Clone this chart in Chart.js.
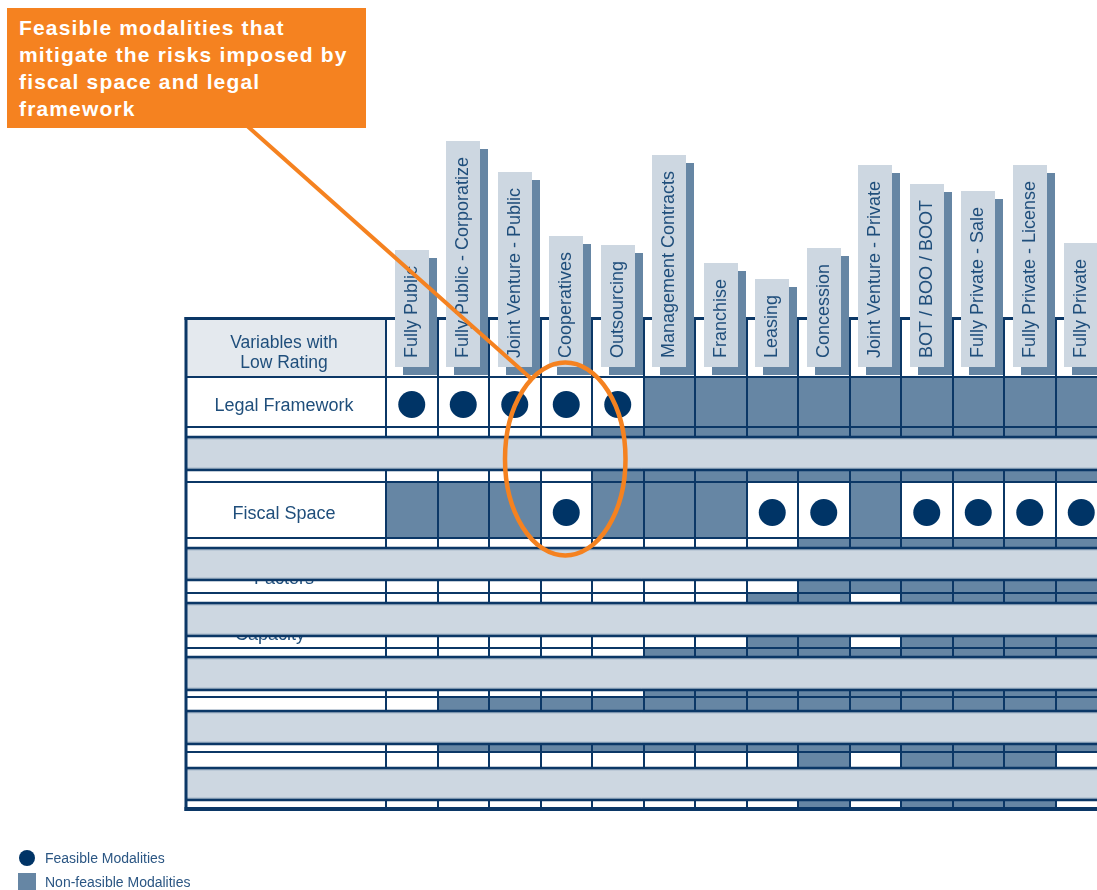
<!DOCTYPE html>
<html>
<head>
<meta charset="utf-8">
<script src="https://cdn.jsdelivr.net/npm/chart.js@4.4.1/dist/chart.umd.min.js"></script>
<style>
  html, body { margin: 0; padding: 0; background: #ffffff; overflow: hidden; }
  #wrap { position: relative; width: 1097px; height: 890px; }
  #chart { position: absolute; left: 0; top: 0; }
  #callout {
    position: absolute; left: 7px; top: 8px; width: 359px; height: 120px;
    background: #f58220; color: #ffffff; box-sizing: border-box;
    padding: 6px 0 0 12px; white-space: nowrap; z-index: 3;
    font: bold 21px "Liberation Sans", Arial, Helvetica, sans-serif;
    letter-spacing: 1.15px; line-height: 27px;
  }
  .lg { position: absolute; font: 14px "Liberation Sans", Arial, Helvetica, sans-serif; color: #2b5683; line-height: 16px; white-space: nowrap; }
  .sw { position: absolute; }
</style>
</head>
<body>
<div id="wrap">
  <canvas id="chart" width="1097" height="890"></canvas>
  <div id="callout"></div>
  <div class="sw" id="sw1" style="left:19px;top:850px;width:16px;height:16px;border-radius:50%;background:#003466;"></div>
  <div class="lg" id="lg1" style="left:45px;top:850px;"></div>
  <div class="sw" id="sw2" style="left:18px;top:873px;width:18px;height:17px;background:#6686a4;"></div>
  <div class="lg" id="lg2" style="left:45px;top:874px;"></div>
</div>
<script>
// ---------------- DATA ----------------
const modalities = [
  'Fully Public', 'Fully Public - Corporatize', 'Joint Venture - Public', 'Cooperatives',
  'Outsourcing', 'Management Contracts', 'Franchise', 'Leasing', 'Concession',
  'Joint Venture - Private', 'BOT / BOO / BOOT', 'Fully Private - Sale',
  'Fully Private - License', 'Fully Private'
];
const headerLines = ['Variables with', 'Low Rating'];
// Cell codes: 'F' = feasible modality (dot), 'N' = non-feasible (dark), 'W' = blank
const legalFramework      = ['F','F','F','F','F','N','N','N','N','N','N','N','N','N'];
const legalFrameworkLower = ['W','W','W','W','N','N','N','N','N','N','N','N','N','N'];
const fiscalSpaceUpper    = ['W','W','W','W','N','N','N','N','N','N','N','N','N','N'];
const fiscalSpace         = ['N','N','N','F','N','N','N','F','F','N','F','F','F','F'];
const fiscalSpaceLower    = ['W','W','W','W','W','W','W','W','N','N','N','N','N','N'];
const factorsUpper        = ['W','W','W','W','W','W','W','W','N','N','N','N','N','N'];
const factorsLower        = ['W','W','W','W','W','W','W','N','N','W','N','N','N','N'];
const capacityUpper       = ['W','W','W','W','W','W','W','N','N','W','N','N','N','N'];
const capacityLower       = ['W','W','W','W','W','N','N','N','N','N','N','N','N','N'];
const row5Upper           = ['W','W','W','W','W','N','N','N','N','N','N','N','N','N'];
const row5Lower           = ['W','N','N','N','N','N','N','N','N','N','N','N','N','N'];
const row6Upper           = ['W','N','N','N','N','N','N','N','N','N','N','N','N','N'];
const row6Lower           = ['W','W','W','W','W','W','W','W','N','W','N','N','N','W'];
const row7Upper           = ['W','W','W','W','W','W','W','W','N','W','N','N','N','W'];
const legendLabels = ['Feasible Modalities', 'Non-feasible Modalities'];
const calloutLines = ['Feasible modalities that', 'mitigate the risks imposed by', 'fiscal space and legal', 'framework'];
const highlighted = 'Cooperatives';

// ---------------- LAYOUT (structure, sizes, styles) ----------------
const rowSequence = [
  { header: true, label: headerLines },
  { cells: legalFramework, label: 'Legal Framework' },
  { cells: legalFrameworkLower },
  { band: true },
  { cells: fiscalSpaceUpper },
  { cells: fiscalSpace, label: 'Fiscal Space' },
  { cells: fiscalSpaceLower },
  { band: true },
  { cells: factorsUpper, label: 'Factors', partial: true, dx: 0 },
  { cells: factorsLower },
  { band: true },
  { cells: capacityUpper, label: 'Capacity', partial: true, dx: -14 },
  { cells: capacityLower },
  { band: true },
  { cells: row5Upper },
  { cells: row5Lower },
  { band: true },
  { cells: row6Upper },
  { cells: row6Lower },
  { band: true },
  { cells: row7Upper }
];
const rowHeights = [58, 50, 10, 33, 12, 56, 10, 32, 13, 10, 33, 12, 9, 33, 7, 14, 33, 8, 16, 32, 8];
const tableTopPx = 319, colPx = 51.5, firstColPx = 386, labelColPx = 200;
const W = 1097, H = 890;
const FONT = "'Liberation Sans', Arial, Helvetica, sans-serif";
const C = {
  navy: '#0b3766', dot: '#003466', dark: '#6686a4', band: '#cdd7e1',
  headBg: '#e4e9ee', text: '#1f4e7b', orange: '#f58220', white: '#ffffff'
};

let acc = 0;
const rows = rowSequence.map((r, k) => { const top = acc; acc += rowHeights[k]; return Object.assign({}, r, { top, bottom: acc }); });
const tableBottom = acc;
const labelColStart = -labelColPx / colPx;

// ---------------- DATASETS ----------------
const cellColor = c => (c === 'N' ? C.dark : C.white);
const barStyle = {
  type: 'bar', order: 2, grouped: false, barPercentage: 1, categoryPercentage: 1,
  borderWidth: { top: 1, bottom: 1, left: 0, right: 0 }, borderColor: C.navy,
  borderSkipped: false, inflateAmount: 0
};
const barDatasets = rows.filter(r => !r.band).map(r => {
  const cells = r.cells || modalities.map(() => 'W');
  return Object.assign({}, barStyle, {
    data: cells.map((c, i) => ({ x: i + 0.5, y: [r.top, r.bottom] })),
    backgroundColor: cells.map(cellColor)
  });
});
const dotData = [];
rows.forEach(r => {
  if (!r.cells) return;
  r.cells.forEach((c, i) => { if (c === 'F') dotData.push({ x: i + 0.5, y: (r.top + r.bottom) / 2 + 2.5 }); });
});

// ---------------- DECORATION PLUGIN ----------------
const tablePlugin = {
  id: 'tableDecor',
  beforeDatasetsDraw(chart) {
    const { ctx, scales: { x, y } } = chart;
    const L = x.getPixelForValue(labelColStart), R = x.getPixelForValue(0);
    ctx.save();
    rows.forEach(r => {
      if (r.band) return;
      const t = y.getPixelForValue(r.top), b = y.getPixelForValue(r.bottom);
      ctx.fillStyle = r.header ? C.headBg : C.white;
      ctx.fillRect(L, t, R - L, b - t);
      ctx.strokeStyle = C.navy; ctx.lineWidth = 1;
      ctx.strokeRect(L + 0.5, t + 0.5, R - L - 1, b - t - 1);
    });
    ctx.fillStyle = C.text; ctx.textAlign = 'center'; ctx.textBaseline = 'alphabetic';
    const cx = (L + R) / 2 - 2;
    rows.forEach(r => {
      if (!r.label) return;
      const t = y.getPixelForValue(r.top), b = y.getPixelForValue(r.bottom);
      if (r.header) {
        ctx.font = '17.5px ' + FONT;
        r.label.forEach((line, k) => ctx.fillText(line, cx, t + 28.5 + k * 20.5));
      } else if (r.partial) {
        ctx.font = '18px ' + FONT;
        ctx.fillText(r.label, cx + (r.dx || 0), t + 4);
      } else {
        ctx.font = '18px ' + FONT;
        ctx.fillText(r.label, cx, (t + b) / 2 + 8.5);
      }
    });
    ctx.restore();
  },
  afterDatasetsDraw(chart) {
    const { ctx, chartArea, scales: { x, y } } = chart;
    const L = x.getPixelForValue(labelColStart), Rt = chartArea.right;
    ctx.save();
    // crisp vertical column rules, from the x scale
    ctx.strokeStyle = C.navy; ctx.lineWidth = 2;
    rows.forEach(r => {
      if (r.band) return;
      const t = y.getPixelForValue(r.top), b = y.getPixelForValue(r.bottom);
      for (let i = 0; i <= modalities.length; i++) {
        const xp = Math.round(x.getPixelForValue(i));
        ctx.beginPath(); ctx.moveTo(xp, t); ctx.lineTo(xp, b); ctx.stroke();
      }
    });
    // light bands
    rows.forEach(r => {
      if (!r.band) return;
      const t = y.getPixelForValue(r.top), b = y.getPixelForValue(r.bottom);
      ctx.fillStyle = C.band;
      ctx.fillRect(L, t, Rt - L, b - t);
      ctx.strokeStyle = '#8ea4ba'; ctx.lineWidth = 1;
      ctx.beginPath(); ctx.moveTo(L, t + 1.8); ctx.lineTo(Rt, t + 1.8); ctx.moveTo(L, b - 1.8); ctx.lineTo(Rt, b - 1.8); ctx.stroke();
      ctx.strokeStyle = C.navy; ctx.lineWidth = 2.5;
      ctx.beginPath(); ctx.moveTo(L, t); ctx.lineTo(Rt, t); ctx.moveTo(L, b); ctx.lineTo(Rt, b); ctx.stroke();
    });
    // outer border
    const top = y.getPixelForValue(0), bot = y.getPixelForValue(tableBottom);
    ctx.strokeStyle = C.navy;
    ctx.lineWidth = 3;
    ctx.beginPath(); ctx.moveTo(L - 1.5, top - 0.5); ctx.lineTo(Rt, top - 0.5); ctx.stroke();
    ctx.beginPath(); ctx.moveTo(L, top - 2); ctx.lineTo(L, bot + 3); ctx.stroke();
    ctx.lineWidth = 4;
    ctx.beginPath(); ctx.moveTo(L - 1.5, bot + 1); ctx.lineTo(Rt, bot + 1); ctx.stroke();
    // column header tabs
    const headerRow = rows.find(r => r.header);
    const boxBottom = y.getPixelForValue(headerRow.bottom) - 10;
    const textStart = boxBottom - 9;
    ctx.font = '18px ' + FONT; ctx.textAlign = 'left'; ctx.textBaseline = 'alphabetic';
    modalities.forEach((m, i) => {
      const cx = Math.round(x.getPixelForValue(i + 0.5));
      const tw = ctx.measureText(m).width;
      const boxL = cx - 17, boxW = 34;
      const boxT = Math.round(textStart - tw - 16);
      ctx.fillStyle = C.dark;
      ctx.fillRect(boxL + 8, boxT + 8, boxW, boxBottom - boxT);
      ctx.fillStyle = C.band;
      ctx.fillRect(boxL, boxT, boxW, boxBottom - boxT);
      ctx.save();
      ctx.translate(boxL + 22, textStart);
      ctx.rotate(-Math.PI / 2);
      ctx.fillStyle = C.text;
      ctx.fillText(m, 0, 0);
      ctx.restore();
    });
    ctx.restore();
  },
  afterDraw(chart) {
    const { ctx, scales: { x, y } } = chart;
    const idx = modalities.indexOf(highlighted);
    const legal = rows.find(r => r.cells === legalFramework);
    const fiscal = rows.find(r => r.cells === fiscalSpace);
    const ex = x.getPixelForValue(idx + 0.5) - 1;
    const yTop = y.getPixelForValue(legal.top), yBot = y.getPixelForValue(fiscal.bottom);
    const ey = (yTop + yBot) / 2 + 1.5;
    const rx = colPx * 1.17, ry = (yBot - yTop) / 2 + 16;
    const co = document.getElementById('callout');
    const sx = co.offsetLeft + 238, sy = co.offsetTop + co.offsetHeight;
    const t = -124 * Math.PI / 180;
    ctx.save();
    ctx.strokeStyle = C.orange; ctx.lineCap = 'butt';
    ctx.lineWidth = 4;
    ctx.beginPath(); ctx.moveTo(sx, sy - 4); ctx.lineTo(ex + rx * Math.cos(t), ey + ry * Math.sin(t)); ctx.stroke();
    ctx.lineWidth = 4.5;
    ctx.beginPath(); ctx.ellipse(ex, ey, rx, ry, 0, 0, Math.PI * 2); ctx.stroke();
    ctx.restore();
  }
};

// ---------------- TEXT ----------------
document.getElementById('callout').innerHTML = calloutLines.join('<br>');
document.getElementById('lg1').textContent = legendLabels[0];
document.getElementById('lg2').textContent = legendLabels[1];

// ---------------- CHART ----------------
new Chart(document.getElementById('chart'), {
  type: 'bar',
  data: {
    datasets: [
      { type: 'scatter', order: 0, data: dotData, pointRadius: 13.5, pointHoverRadius: 13.5,
        backgroundColor: C.dot, borderColor: C.dot, borderWidth: 0, pointStyle: 'circle' }
    ].concat(barDatasets)
  },
  options: {
    responsive: false, animation: false, events: [],
    layout: { padding: 0, autoPadding: false },
    plugins: { legend: { display: false }, tooltip: { enabled: false }, title: { display: false } },
    scales: {
      x: {
        type: 'linear', display: false, offset: false,
        min: -firstColPx / colPx, max: (W - firstColPx) / colPx,
        afterBuildTicks: s => { s.ticks = modalities.concat(['']).map((_, i) => ({ value: i })); }
      },
      y: {
        type: 'linear', display: false, reverse: true,
        min: -tableTopPx, max: H - tableTopPx
      }
    }
  },
  plugins: [tablePlugin]
});
</script>
</body>
</html>
